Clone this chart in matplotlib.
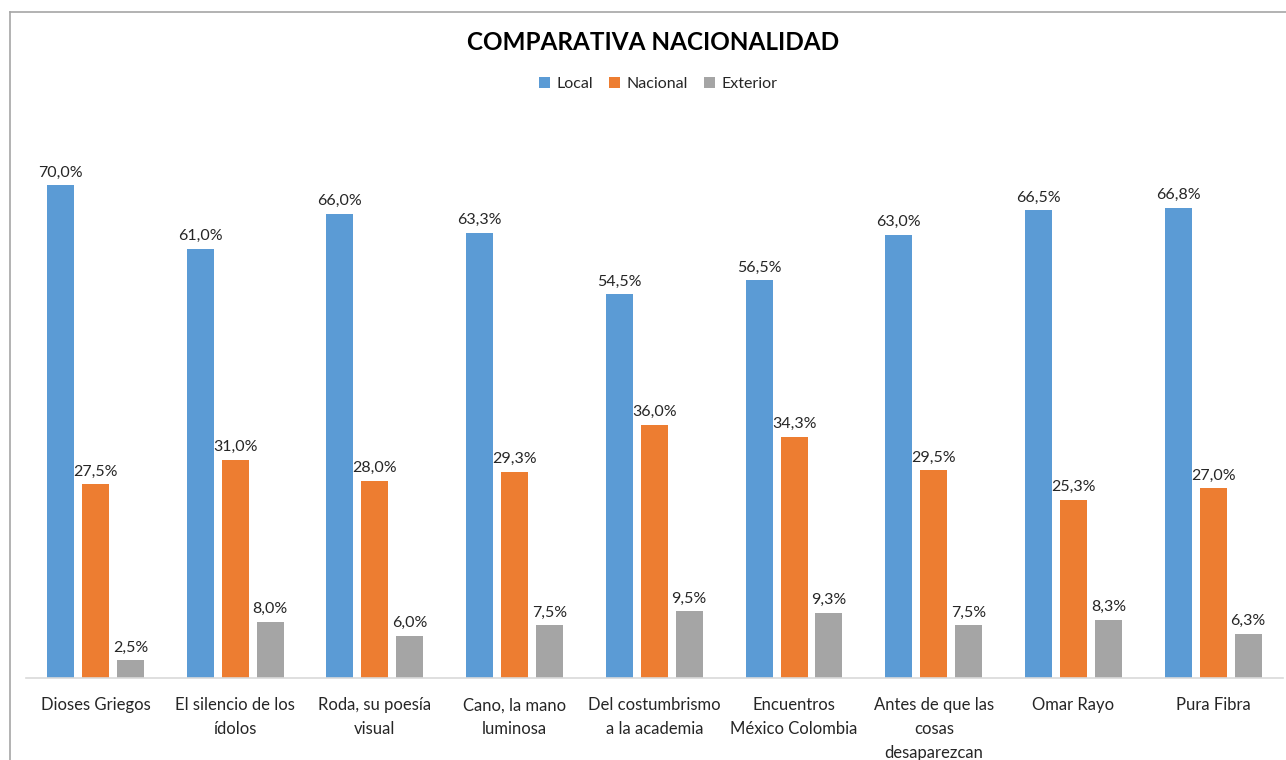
import matplotlib.pyplot as plt
import numpy as np
from matplotlib.lines import Line2D

plt.rcParams['font.family'] = ['Lato', 'DejaVu Sans']

categories = ["Dioses Griegos", "El silencio de los\nídolos", "Roda, su poesía\nvisual",
              "Cano, la mano\nluminosa", "Del costumbrismo\na la academia",
              "Encuentros\nMéxico Colombia", "Antes de que las\ncosas\ndesaparezcan",
              "Omar Rayo", "Pura Fibra"]
local = [70.0, 61.0, 66.0, 63.3, 54.5, 56.5, 63.0, 66.5, 66.8]
nacional = [27.5, 31.0, 28.0, 29.3, 36.0, 34.3, 29.5, 25.3, 27.0]
exterior = [2.5, 8.0, 6.0, 7.5, 9.5, 9.3, 7.5, 8.3, 6.3]
series = ["Local", "Nacional", "Exterior"]
colors = ["#5B9BD5", "#ED7D31", "#A5A5A5"]

fig = plt.figure(figsize=(12.86, 7.6), dpi=100)
ax = fig.add_axes([0.0199, 0.1079, 0.9778, 0.7408])

x = np.arange(len(categories))
w = 0.193
step = 0.25
for i, (name, vals, c) in enumerate(zip(series, [local, nacional, exterior], colors)):
    bars = ax.bar(x + (i - 1) * step, vals, w, color=c, label=name)
    for b, v in zip(bars, vals):
        ax.annotate(f"{v:.1f}%".replace('.', ','), (b.get_x() + b.get_width() / 2, v),
                    xytext=(0, 4), textcoords="offset points", ha="center", va="bottom",
                    fontsize=11.5, color="#262626")

ax.set_xlim(-0.5, 8.5)
ax.set_ylim(0, 80)
ax.set_yticks([])
ax.set_xticks(x)
ax.set_xticklabels(categories, fontsize=12, color="#262626", linespacing=1.6)
ax.tick_params(axis="x", length=0, pad=14)
for s in ["top", "right", "left"]:
    ax.spines[s].set_visible(False)
ax.spines["bottom"].set_color("#D9D9D9")
ax.spines["bottom"].set_linewidth(1.2)

fig.text(0.508, 0.944, "COMPARATIVA NACIONALIDAD", ha="center", va="center",
         fontsize=17.5, fontweight="bold", color="#000000")
fig.legend(loc="center", bbox_to_anchor=(0.512, 0.889), ncol=3, frameon=False,
           fontsize=11.5, handlelength=0.7, handleheight=0.7, handletextpad=0.4,
           columnspacing=1.0, labelcolor="#262626")

# chart border (cropped on right and bottom)
fig.add_artist(Line2D([10 / 1286, 10 / 1286], [0, 1 - 12 / 760], transform=fig.transFigure,
                      color="#A6A6A6", lw=1.2))
fig.add_artist(Line2D([10 / 1286, 1], [1 - 12 / 760, 1 - 12 / 760], transform=fig.transFigure,
                      color="#A6A6A6", lw=1.2))

fig.savefig("out.png", dpi=100)
